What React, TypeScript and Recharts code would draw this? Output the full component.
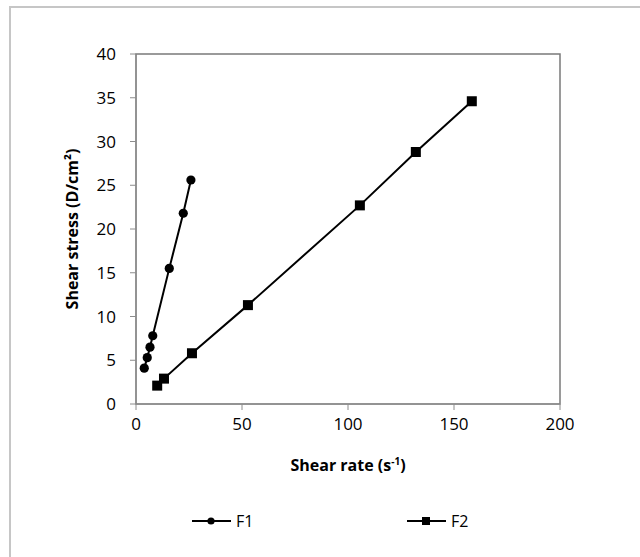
import React from 'react';
import { LineChart, Line, XAxis, YAxis, ReferenceArea, Legend } from 'recharts';

// shear rate (s^-1) and shear stress (D/cm2)
const f1Rate = [3.9, 5.3, 6.6, 7.9, 15.7, 22.3, 25.9];
const f1Stress = [4.1, 5.3, 6.5, 7.8, 15.5, 21.8, 25.6];
const f2Rate = [10, 13.2, 26.4, 52.8, 105.6, 132, 158.4];
const f2Stress = [2.1, 2.9, 5.8, 11.3, 22.7, 28.8, 34.6];
const seriesNames = ['F1', 'F2'];
const xTicks = [0, 50, 100, 150, 200];
const yTicks = [0, 5, 10, 15, 20, 25, 30, 35, 40];

const f1Data = f1Rate.map((x, i) => ({ x, y: f1Stress[i] }));
const f2Data = f2Rate.map((x, i) => ({ x, y: f2Stress[i] }));

const FONT = "'Open Sans', sans-serif";
const AXIS = '#8c8c8c';

const CircleDot = (props: any) => {
   const { cx, cy, index } = props;
   return <circle key={'c' + index} cx={cx} cy={cy} r={4.6} fill='#000' />;
};

const SquareDot = (props: any) => {
   const { cx, cy, index } = props;
   return <rect key={'s' + index} x={cx - 5} y={cy - 5} width={10} height={10} fill='#000' />;
};

const XLabel = ({ viewBox }: any) => {
   const { x, y, width } = viewBox;
   return (
      <text x={x + width / 2} y={y + 67} textAnchor='middle' fontFamily={FONT} fontSize={16} fontWeight={700} fill='#000'>
         Shear rate (s
         <tspan dy={-6} fontSize={10}>-1</tspan>
         <tspan dy={6}>)</tspan>
      </text>
   );
};

const YLabel = ({ viewBox }: any) => {
   const { y, height } = viewBox;
   const cx = 78;
   const cy = y + height / 2;
   return (
      <text
         x={cx}
         y={cy}
         transform={`rotate(-90, ${cx}, ${cy})`}
         textAnchor='middle'
         fontFamily={FONT}
         fontSize={16}
         fontWeight={700}
         fill='#000'
      >
         Shear stress (D/cm²)
      </text>
   );
};

const legendLeft = [192, 407];

const renderLegend = (props: any) => {
   const items = props.payload || [];
   return (
      <div style={{ position: 'relative', height: 24, fontFamily: FONT, fontSize: 16 }}>
         {items.map((entry: any, i: number) => (
            <div
               key={entry.value}
               style={{ position: 'absolute', left: legendLeft[i], top: 0, display: 'flex', alignItems: 'center' }}
            >
               <svg width={40} height={14}>
                  <line x1={0} y1={7} x2={39} y2={7} stroke='#000' strokeWidth={2} />
                  {i === 0 ? <circle cx={19} cy={7} r={3.6} fill='#000' /> : <rect x={15} y={3} width={8} height={8} fill='#000' />}
               </svg>
               <span style={{ marginLeft: 4, color: '#000' }}>{entry.value}</span>
            </div>
         ))}
      </div>
   );
};

export default function App() {
   return (
      <div style={{ position: 'absolute', left: 0, top: 0, width: 640, height: 557, background: '#fff' }}>
         <div
            style={{
               position: 'absolute',
               left: 9,
               top: 6,
               width: 631,
               height: 551,
               borderTop: '2px solid #c6c6c6',
               borderLeft: '2px solid #c6c6c6'
            }}
         />
         <div style={{ position: 'absolute', left: 0, top: 0 }}>
            <LineChart width={640} height={557} margin={{ top: 54, right: 80, bottom: 93, left: 0 }}>
               <XAxis
                  type='number'
                  dataKey='x'
                  domain={[0, 200]}
                  ticks={xTicks}
                  height={60}
                  stroke={AXIS}
                  tickSize={6}
                  tickMargin={8}
                  tick={{ fill: '#000', fontSize: 17, fontFamily: FONT }}
                  label={{ content: XLabel }}
               />
               <YAxis
                  type='number'
                  dataKey='y'
                  domain={[0, 40]}
                  ticks={yTicks}
                  width={136}
                  stroke={AXIS}
                  tickSize={6}
                  tickMargin={14}
                  tick={{ fill: '#000', fontSize: 17, fontFamily: FONT }}
                  label={{ content: YLabel }}
               />
               <ReferenceArea x1={0} x2={200} y1={0} y2={40} fill='none' stroke='#7a7a7a' strokeWidth={1.5} />
               <Line
                  data={f1Data}
                  dataKey='y'
                  name={seriesNames[0]}
                  stroke='#000'
                  strokeWidth={2}
                  dot={CircleDot}
                  activeDot={false}
                  isAnimationActive={false}
               />
               <Line
                  data={f2Data}
                  dataKey='y'
                  name={seriesNames[1]}
                  stroke='#000'
                  strokeWidth={2}
                  dot={SquareDot}
                  activeDot={false}
                  isAnimationActive={false}
               />
               <Legend
                  layout='horizontal'
                  verticalAlign='middle'
                  align='center'
                  content={renderLegend}
                  wrapperStyle={{ top: 510, left: 0, width: 640 }}
               />
            </LineChart>
         </div>
      </div>
   );
}
